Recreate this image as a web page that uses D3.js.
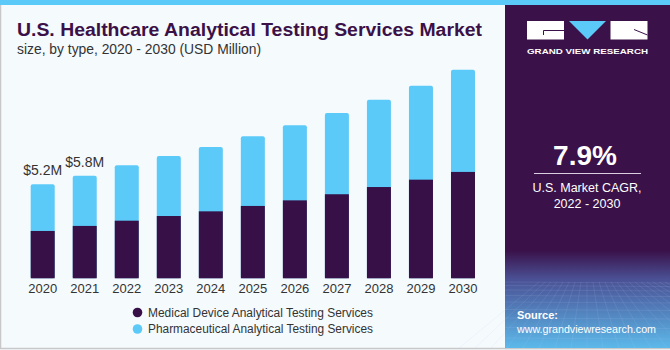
<!DOCTYPE html>
<html>
<head>
<meta charset="utf-8">
<script src="https://cdn.jsdelivr.net/npm/d3@7"></script>
<style>
  html, body { margin: 0; padding: 0; background: #fff; }
  svg { display: block; font-family: "Liberation Sans", Arial, sans-serif; }
</style>
</head>
<body>
<svg id="chart" width="670" height="350"></svg>
<script>
// Dades
const years = ["2020", "2021", "2022", "2023", "2024", "2025", "2026", "2027", "2028", "2029", "2030"];
const medical = [2.63, 2.91, 3.20, 3.46, 3.72, 4.02, 4.33, 4.67, 5.07, 5.48, 5.91];
const pharma = [2.59, 2.79, 3.08, 3.33, 3.57, 3.87, 4.17, 4.52, 4.85, 5.22, 5.68];
const valueLabels = ["$5.2M", "$5.8M"];
const seriesNames = ["Medical Device Analytical Testing Services", "Pharmaceutical Analytical Testing Services"];
const colors = ["#371047", "#5ccaf8"];

const svg = d3.select("#chart");
const W = 670, H = 350;

// Fons
svg.append("rect").attr("width", W).attr("height", H).attr("fill", "#f5fafd");
svg.append("rect").attr("x", 0.5).attr("y", 0).attr("width", W - 1).attr("height", H - 1.5)
   .attr("fill", "none").attr("stroke", "#c8c8c8").attr("stroke-width", 1.5);

// Panell dret
const defs = svg.append("defs");
const grad = defs.append("linearGradient").attr("id", "panelGrad")
  .attr("x1", 0).attr("y1", 0).attr("x2", 0).attr("y2", 1);
grad.append("stop").attr("offset", "0%").attr("stop-color", "#3a1149");
grad.append("stop").attr("offset", "72%").attr("stop-color", "#3a1149");
grad.append("stop").attr("offset", "80%").attr("stop-color", "#4a4f93");
grad.append("stop").attr("offset", "100%").attr("stop-color", "#5cb9ea");

svg.append("rect").attr("x", 505).attr("y", 0).attr("width", 165).attr("height", 348)
   .attr("fill", "url(#panelGrad)");

// graella decorativa
const gridG = svg.append("g").attr("stroke", "#b5c8ee").attr("stroke-opacity", 0.18).attr("stroke-width", 0.7);
d3.range(0, 10).forEach(i => {
  const yy = 282 + i * i * 0.5 + i * 3;
  gridG.append("line").attr("x1", 505).attr("x2", 670).attr("y1", yy).attr("y2", yy + 1);
});
d3.range(-8, 14).forEach(i => {
  gridG.append("line").attr("x1", 587 + i * 6).attr("y1", 282).attr("x2", 587 + i * 16).attr("y2", 348);
});

// Franja superior
svg.append("rect").attr("x", 0).attr("y", 0).attr("width", W).attr("height", 5).attr("fill", "#5ccaf8");

// Logo
const logo = svg.append("g");
logo.append("rect").attr("x", 527).attr("y", 21).attr("width", 37).attr("height", 18.5).attr("fill", "#fff");
logo.append("path").attr("d", "M569,21 L606,21 L587.5,39.5 Z").attr("fill", "#5ccaf8");
logo.append("rect").attr("x", 610.5).attr("y", 21).attr("width", 37).attr("height", 18.5).attr("fill", "#fff");
logo.append("path").attr("d", "M543.5,35 L543.5,30.5 L564,30.5").attr("fill", "none").attr("stroke", "#3a1149").attr("stroke-width", 1);
logo.append("path").attr("d", "M634,29.5 L647.5,35").attr("fill", "none").attr("stroke", "#3a1149").attr("stroke-width", 1);
svg.append("text").attr("x", 527).attr("y", 53.5).attr("textLength", 121).attr("lengthAdjust", "spacingAndGlyphs")
   .attr("fill", "#fff").attr("font-size", 7.6).attr("font-weight", "bold").text("GRAND VIEW RESEARCH");

// CAGR
svg.append("text").attr("x", 585).attr("y", 165).attr("text-anchor", "middle")
   .attr("fill", "#fff").attr("font-size", 28).attr("font-weight", "bold").text("7.9%");
svg.append("line").attr("x1", 534).attr("x2", 641).attr("y1", 173.5).attr("y2", 173.5)
   .attr("stroke", "#d9cfe0").attr("stroke-width", 1);
svg.append("text").attr("x", 587).attr("y", 192).attr("text-anchor", "middle")
   .attr("fill", "#fff").attr("font-size", 12.5).text("U.S. Market CAGR,");
svg.append("text").attr("x", 587).attr("y", 208).attr("text-anchor", "middle")
   .attr("fill", "#fff").attr("font-size", 12.5).text("2022 - 2030");

// Font
svg.append("text").attr("x", 517).attr("y", 318.5).attr("fill", "#fff")
   .attr("font-size", 11).attr("font-weight", "bold").text("Source:");
svg.append("text").attr("x", 517).attr("y", 333).attr("textLength", 139).attr("lengthAdjust", "spacingAndGlyphs")
   .attr("fill", "#fff").attr("font-size", 11).text("www.grandviewresearch.com");

// Títol
svg.append("text").attr("x", 17).attr("y", 36).attr("textLength", 465).attr("lengthAdjust", "spacingAndGlyphs")
   .attr("fill", "#3b1148").attr("font-size", 18).attr("font-weight", "bold")
   .text("U.S. Healthcare Analytical Testing Services Market");
svg.append("text").attr("x", 17).attr("y", 54).attr("textLength", 244).attr("lengthAdjust", "spacingAndGlyphs")
   .attr("fill", "#333").attr("font-size", 14).text("size, by type, 2020 - 2030 (USD Million)");

// Escales
const baseY = 278.3;
const x = d3.scaleBand().domain(years).range([30.7, 475]).paddingInner(0.4286).paddingOuter(0);
const y = d3.scaleLinear().domain([0, 12]).range([baseY, baseY - 216]);

const data = years.map((yr, i) => ({ year: yr, med: medical[i], pha: pharma[i], total: medical[i] + pharma[i] }));

const bars = svg.append("g");
// barra total (farmacèutica) amb cantonades arrodonides
bars.selectAll("rect.pha").data(data).enter().append("rect")
  .attr("class", "pha")
  .attr("x", d => x(d.year))
  .attr("y", d => y(d.total))
  .attr("width", x.bandwidth())
  .attr("height", d => baseY - y(d.total))
  .attr("rx", 2)
  .attr("fill", colors[1]);
bars.selectAll("rect.med").data(data).enter().append("rect")
  .attr("class", "med")
  .attr("x", d => x(d.year))
  .attr("y", d => y(d.med))
  .attr("width", x.bandwidth())
  .attr("height", d => baseY - y(d.med))
  .attr("fill", colors[0]);

// Etiquetes de valor
valueLabels.forEach((lab, i) => {
  svg.append("text")
    .attr("x", x(years[i]) + x.bandwidth() / 2)
    .attr("y", y(data[i].total) - 9)
    .attr("text-anchor", "middle")
    .attr("fill", "#333").attr("font-size", 14)
    .text(lab);
});

// Eix X
const xAxis = svg.append("g").attr("transform", `translate(0,${baseY})`)
  .call(d3.axisBottom(x).tickSize(0).tickPadding(5));
xAxis.select(".domain").remove();
xAxis.selectAll("text").attr("font-size", 13).attr("fill", "#333")
  .attr("font-family", "Liberation Sans, Arial, sans-serif");

// Llegenda
seriesNames.forEach((name, i) => {
  const g = svg.append("g").attr("transform", `translate(137.5,${312.5 + i * 16.5})`);
  g.append("circle").attr("r", 4.8).attr("fill", colors[i]);
  g.append("text").attr("x", 10.5).attr("y", 4.3).attr("fill", "#333").attr("font-size", 12.5)
   .attr("textLength", 225).attr("lengthAdjust", "spacingAndGlyphs").text(name);
});
</script>
</body>
</html>
